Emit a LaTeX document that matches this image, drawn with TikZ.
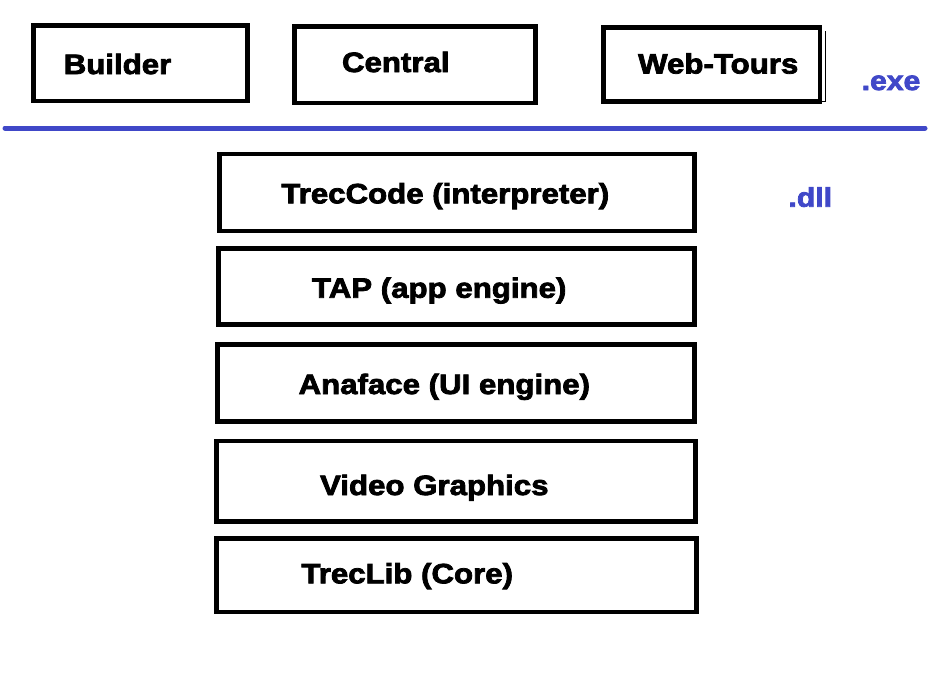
\documentclass[tikz,border=0pt]{standalone}
\usepackage{fontspec}
\setmainfont{Liberation Sans}[BoldFeatures={FakeBold=2.8,FakeStretch=1.115}]
\definecolor{lineblue}{RGB}{64,72,200}
\begin{document}
\begin{tikzpicture}[x=1pt,y=-1pt,
  box/.style={draw=black, line width=4.6pt, rectangle, inner sep=0pt, fill=none},
  lbl/.style={anchor=base, inner sep=0pt, font=\fontsize{28}{30}\selectfont\bfseries},
  ext/.style={anchor=base, inner sep=0pt, text=lineblue, font=\fontsize{27}{30}\selectfont\bfseries}]
\useasboundingbox (0,0) rectangle (928,694);
% top row (.exe)
\node[box, minimum width=214pt, minimum height=75.5pt] (builder) at (140.5,63.25) {};
\node[box, minimum width=241pt, minimum height=76.5pt] (central) at (415,64.75) {};
\node[box, minimum width=216.5pt, minimum height=74pt] (webtours) at (711.75,64.5) {};
\draw[black, line width=1pt] ([xshift=3.5pt,yshift=-6pt]webtours.north east) -- ([xshift=3.5pt,yshift=2.3pt]webtours.south east) -- ([xshift=0pt,yshift=2.3pt]webtours.south east);
\node[lbl] (tbuilder) at (117.5,74) {Builder};
\node[lbl] (tcentral) at (395.8,72) {Central};
\node[lbl] (twebtours) at (718.2,73.5) {Web-Tours};
\node[ext] (exe) at (891,90) {.exe};
% separator
\coordinate (sepL) at (5,128);
\coordinate (sepR) at (925,128);
\draw[lineblue, line width=5pt, line cap=round] (sepL) -- (sepR);
% dll stack
\node[box, minimum width=474.6pt, minimum height=77pt] (treccode) at (457,192.5) {};
\node[box, minimum width=476pt, minimum height=75.7pt] (tap) at (456.3,286.35) {};
\node[box, minimum width=476.8pt, minimum height=77pt] (anaface) at (456.1,382.7) {};
\node[box, minimum width=479pt, minimum height=80.4pt] (video) at (456,481) {};
\node[box, minimum width=479.8pt, minimum height=73.3pt] (treclib) at (456.4,575.15) {};
\node[lbl] (ttreccode) at (445.3,203.3) {TrecCode (interpreter)};
\node[lbl] (ttap) at (439.2,297.7) {TAP (app engine)};
\node[lbl] (tanaface) at (444.3,394) {Anaface (UI engine)};
\node[lbl] (tvideo) at (434.3,495) {Video Graphics};
\node[lbl] (ttreclib) at (407.2,583.3) {TrecLib (Core)};
\node[ext] (dll) at (810.3,206.7) {.dll};
\end{tikzpicture}
\end{document}
